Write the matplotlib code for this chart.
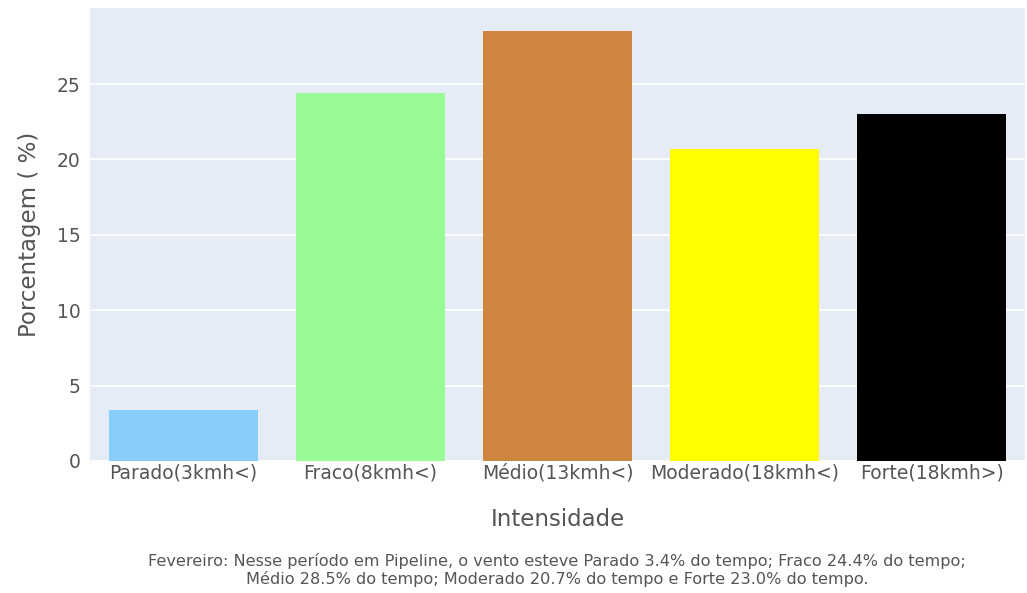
import matplotlib.pyplot as plt

# Dados
categorias = ['Parado(3kmh<)', 'Fraco(8kmh<)', 'Médio(13kmh<)', 'Moderado(18kmh<)', 'Forte(18kmh>)']
porcentagens = [3.4, 24.4, 28.5, 20.7, 23.0]
cores = ['#87CEFA', '#98FB98', '#CD853F', '#FFFF00', '#000000']
ticks_y = [0, 5, 10, 15, 20, 25]

legenda = ('Fevereiro: Nesse período em Pipeline, o vento esteve Parado 3.4% do tempo; Fraco 24.4% do tempo;\n'
           'Médio 28.5% do tempo; Moderado 20.7% do tempo e Forte 23.0% do tempo.')

plt.rcParams['font.family'] = ['DejaVu Sans']
cor_texto = '#555555'

# Tamanho em pixels: 1027x593
W, H = 1027, 593
fig = plt.figure(figsize=(W / 100, H / 100), dpi=100)
ax = fig.add_axes([90 / W, 1 - 461 / H, 935 / W, 453 / H])
ax.set_facecolor('#E5ECF6')

# Barras
ax.bar(categorias, porcentagens, color=cores, width=0.8, zorder=3)
ax.set_xlim(-0.5, len(categorias) - 0.5)
ax.set_ylim(0, 30.04)
ax.set_yticks(ticks_y)
ax.grid(axis='y', color='white', linewidth=1.2, zorder=0)
ax.set_axisbelow(True)

for s in ax.spines.values():
    s.set_visible(False)
ax.tick_params(axis='both', length=0, colors=cor_texto, labelsize=13.5)
ax.tick_params(axis='y', pad=7)
ax.tick_params(axis='x', pad=2)

# Titulos dos eixos
ax.set_ylabel('Porcentagem ( %)', fontsize=16.5, color=cor_texto, va='center')
ax.yaxis.set_label_coords(-(90 - 30) / 935, 0.5)
ax.set_xlabel('Intensidade', fontsize=16.5, color=cor_texto, va='center')
ax.xaxis.set_label_coords(0.5, -(520 - 461) / 453)

# Texto explicativo (centralizado na area do grafico)
fig.text(557 / W, 1 - 570 / H, legenda, ha='center', va='center', fontsize=11.6,
         color='#555555', linespacing=1.2)

fig.savefig('out.png', dpi=100)
